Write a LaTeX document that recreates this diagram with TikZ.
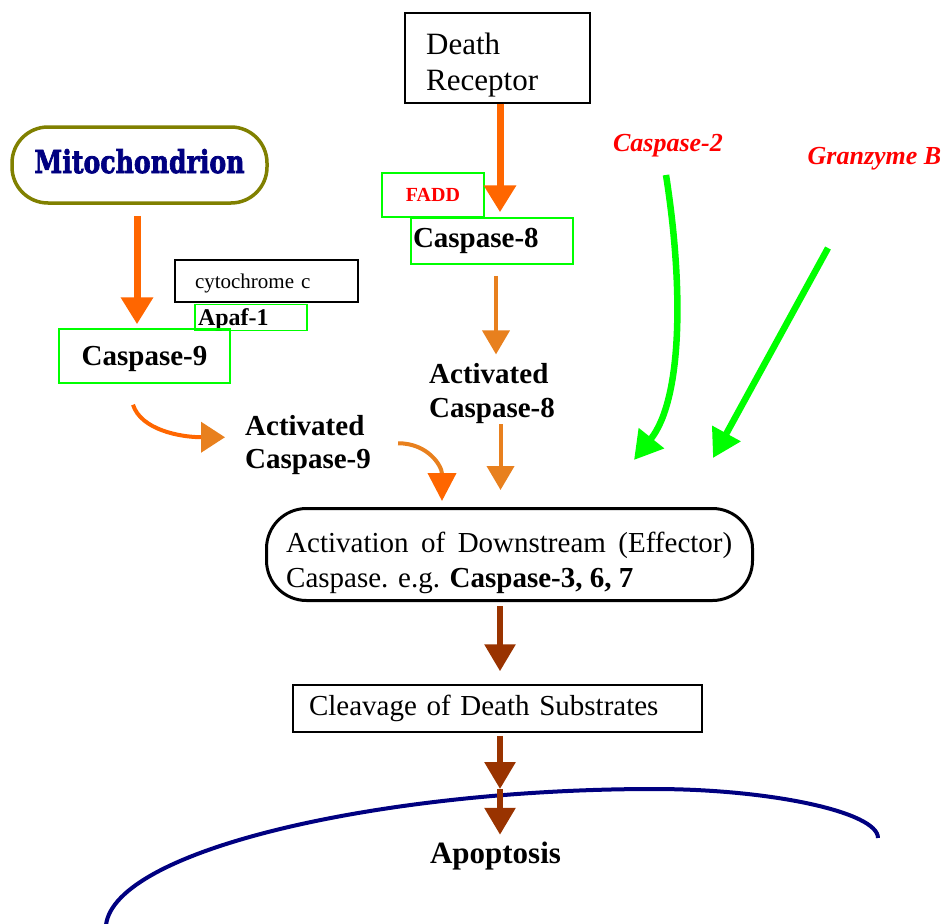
\documentclass[tikz,border=0pt]{standalone}
\usepackage{graphicx}
\usepackage{fontspec}
\setmainfont{Liberation Serif}
\newfontfamily\mitofont{DejaVu Serif}[BoldFeatures={FakeBold=2.5}]
\usetikzlibrary{arrows.meta,calc}
\definecolor{orA}{HTML}{FF6600}
\definecolor{orB}{HTML}{E8801E}
\definecolor{grn}{HTML}{00FF00}
\definecolor{brn}{HTML}{993300}
\definecolor{navyc}{HTML}{000080}
\definecolor{olv}{HTML}{808000}
\newcommand\fsz[2]{\fontsize{#1}{#2}\selectfont}
\begin{document}
\begin{tikzpicture}[x=1pt,y=-1pt,
  box/.style={draw=black, line width=1.5pt, inner sep=0pt},
  gbox/.style={draw=grn, line width=1.5pt, inner sep=0pt},
  txt/.style={inner sep=0pt, anchor=north west, align=left},
  bigarr/.style={draw=orA, line width=7pt, -{Triangle[width=31pt,length=27pt]}},
  midarr/.style={draw=orB, line width=4pt, -{Triangle[width=27pt,length=24pt]}},
  garr/.style={draw=grn, line width=6.5pt, -{Triangle[width=31pt,length=28pt]}},
  barr/.style={draw=brn, line width=6pt, -{Triangle[width=30pt,length=27pt]}}]
\useasboundingbox (0,0) rectangle (944,923);

% apoptosis membrane
\draw[navyc, line width=4pt] (106,925) .. controls (115,850) and (380,789) .. (654,789)
   .. controls (770,789) and (878,812) .. (878,838);

% death receptor branch
\node[box, minimum width=185pt, minimum height=90pt] (dr) at (497.5,58) {};
\node[txt, font=\fsz{31}{36}] (drt) at (426,33) {Death\\Receptor};
\node[gbox, minimum width=102pt, minimum height=44pt, text=red, font=\fsz{20}{24}\bfseries] (fadd) at (433,195) {FADD};
\node[gbox, text width=158pt, inner xsep=2pt, minimum height=46pt, align=left, font=\fsz{29}{35}\bfseries] (c8) at (492,241) {Caspase-8};
\node[txt, font=\fsz{29}{34}\bfseries] (act8) at (429,363.4) {Activated\\Caspase-8};

% mitochondrial branch
\node[draw=olv, line width=3.5pt, rounded corners=36pt, minimum width=255pt, minimum height=76pt, inner sep=0pt, text=navyc] (mito) at (139.5,165)
  {\raisebox{4pt}[24pt][0pt]{\resizebox{210pt}{24pt}{\mitofont\bfseries Mitochondrion}}};
\node[box, text width=143pt, inner xsep=20pt, minimum height=42pt, align=left, text depth=0pt, font=\fsz{21}{25}] (cyt) at (266.5,281) {cytochrome c};
\node[gbox, text width=106pt, inner xsep=3pt, minimum height=26pt, align=left, text depth=0pt, font=\fsz{24}{28}\bfseries] (apaf) at (251,317.5) {Apaf-1};
\node[gbox, minimum width=171pt, minimum height=54pt, text depth=0pt, font=\fsz{29}{35}\bfseries] (c9) at (144.5,356) {Caspase-9};
\node[txt, font=\fsz{29}{33}\bfseries] (act9) at (245,415.4) {Activated\\Caspase-9};

% other initiators
\node[inner sep=0pt, text=red, font=\fsz{26}{30}\bfseries\itshape] (casp2) at (668,146) {Caspase-2};
\node[inner sep=0pt, text=red, font=\fsz{26}{30}\bfseries\itshape] (granz) at (874.5,159) {Granzyme B};

% effector stage
\node[draw=black, line width=3pt, rounded corners=40pt, minimum width=486pt, minimum height=92pt, inner sep=0pt] (act) at (509.5,554.5) {};
\node[txt, font=\fsz{29}{35}] (actt) at (286,531.7)
  {\makebox[446pt][s]{Activation of Downstream (Effector)}\\Caspase. e.g. \textbf{Caspase-3, 6, 7}};
\node[box, text width=377pt, inner xsep=16pt, minimum height=47pt, align=left, font=\fsz{29}{35}] (cleav) at (497.5,708.5) {Cleavage of Death Substrates};
\node[inner sep=0pt, font=\fsz{31}{37}\bfseries] (apop) at (495.5,856) {Apoptosis};
\coordinate (brk) at (500,789);

% connectors
\draw[bigarr] ($(dr.south)+(2.5,0)$) -- ($(dr.south |- c8.north)+(2.5,-5)$);
\draw[midarr] ($(c8.south)+(4,11)$) -- ($(c8.south |- act8.north)+(4,-9)$);
\draw[midarr] ($(act8.south)+(8.5,0)$) -- ($(act8.south |- act.north)+(8.5,-17)$);
\draw[bigarr] ($(mito.south)+(-2.5,11)$) -- ($(mito.south |- c9.north)+(-2.5,-4)$);
\draw[draw=orA, line width=4pt, -{Triangle[width=30pt,length=24pt,color=orB]}]
  ($(c9.south)+(-11.5,21)$) .. controls +(8,25) and +(-45,0) .. ($(act9.west)+(-20,-8)$);
\draw[draw=orB, line width=4pt, -{Triangle[width=28pt,length=28pt,color=orA]}]
  ($(act9.east)+(27,-2)$) .. controls +(30,0) and +(0,-35) .. ($(act.north)+(-67.5,-6)$);
\draw[garr] ($(casp2.south)+(-2,17.4)$) .. controls (684,290) and (682,400) .. ($(act.north)+(124.5,-47)$);
\draw[garr] ($(granz.south)+(-46.5,77.4)$) -- ($(act.north)+(203.5,-49)$);
\draw[barr] ($(act.south)+(-9.5,4)$) -- ($(act.south |- cleav.north)+(-9.5,-13)$);
\draw[barr] ($(cleav.south)+(2.5,3)$) -- (brk);
\draw[barr] (brk) -- ($(apop.north)+(4.5,-7)$);
\end{tikzpicture}
\end{document}
